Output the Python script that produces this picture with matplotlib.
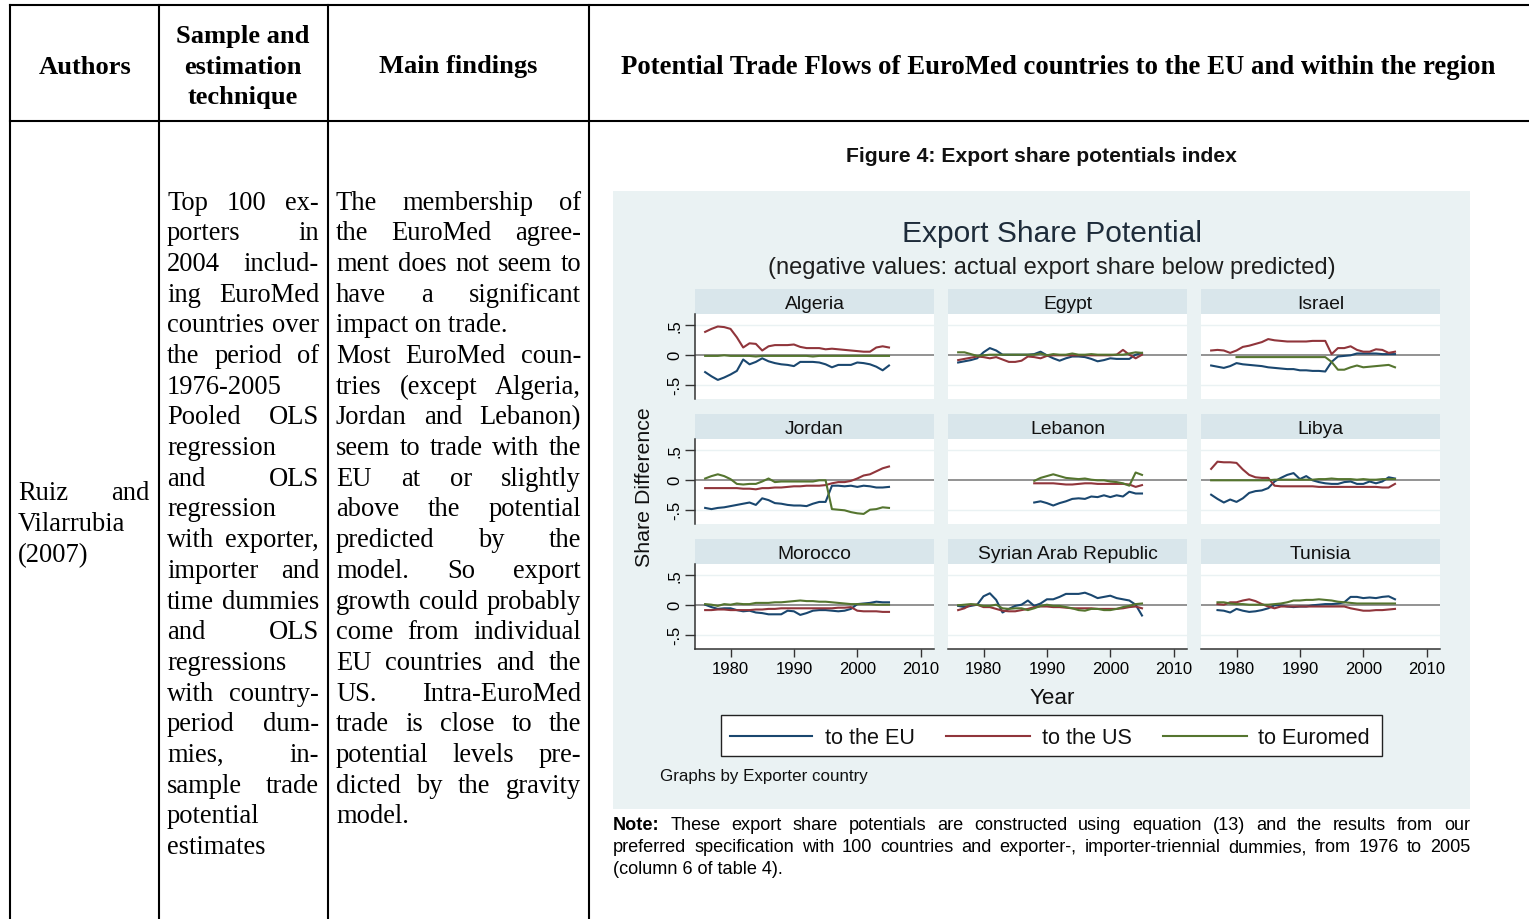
import matplotlib
matplotlib.use('Agg')
import matplotlib.pyplot as plt
from matplotlib.lines import Line2D
from matplotlib.patches import Rectangle

# ---------------- data ----------------
years_full = list(range(1976, 2006))
years_israel_euromed = list(range(1980, 2006))
years_lebanon = list(range(1988, 2006))
years_tunisia = list(range(1977, 2006))

countries = ['Algeria', 'Egypt', 'Israel', 'Jordan', 'Lebanon', 'Libya',
             'Morocco', 'Syrian Arab Republic', 'Tunisia']
series_labels = ['to the EU', 'to the US', 'to Euromed']

algeria_eu = [-0.29, -0.36, -0.42, -0.38, -0.33, -0.27, -0.08, -0.16, -0.12, -0.06, -0.11, -0.14, -0.16, -0.17, -0.19,
              -0.12, -0.12, -0.12, -0.13, -0.16, -0.21, -0.17, -0.17, -0.17, -0.13, -0.14, -0.16, -0.20, -0.26, -0.18]
algeria_us = [0.38, 0.43, 0.47, 0.46, 0.43, 0.29, 0.12, 0.19, 0.18, 0.07, 0.14, 0.16, 0.16, 0.16, 0.17,
              0.13, 0.11, 0.11, 0.11, 0.09, 0.10, 0.09, 0.08, 0.07, 0.06, 0.05, 0.05, 0.12, 0.14, 0.12]
algeria_euromed = [-0.02, -0.02, -0.02, -0.01, -0.02, -0.02, -0.02, -0.02, -0.03, -0.02, -0.02, -0.02, -0.02, -0.02, -0.02,
                   -0.02, -0.02, -0.03, -0.02, -0.02, -0.02, -0.02, -0.02, -0.02, -0.02, -0.02, -0.02, -0.02, -0.02, -0.02]

egypt_eu = [-0.13, -0.11, -0.09, -0.06, 0.04, 0.11, 0.07, 0.00, 0.00, 0.00, 0.00, 0.00, 0.01, 0.05, -0.01,
            -0.06, -0.10, -0.06, -0.03, -0.03, -0.04, -0.07, -0.11, -0.09, -0.06, -0.07, -0.07, -0.07, 0.00, 0.03]
egypt_us = [-0.09, -0.07, -0.05, -0.03, -0.04, -0.06, -0.04, -0.08, -0.12, -0.12, -0.10, -0.03, -0.04, -0.06, -0.02,
            -0.01, -0.01, -0.01, -0.01, -0.01, -0.01, -0.01, -0.01, -0.01, -0.01, 0.00, 0.08, 0.00, -0.06, 0.00]
egypt_euromed = [0.04, 0.04, 0.01, -0.02, -0.01, 0.00, 0.00, 0.00, 0.00, 0.00, 0.00, 0.00, 0.00, 0.02, -0.01,
                 0.01, 0.00, 0.00, 0.02, 0.00, 0.00, 0.01, 0.00, 0.00, 0.00, 0.00, 0.00, 0.02, 0.04, 0.03]

israel_eu = [-0.18, -0.20, -0.22, -0.19, -0.14, -0.16, -0.17, -0.18, -0.19, -0.21, -0.22, -0.23, -0.24, -0.24, -0.26,
             -0.26, -0.27, -0.27, -0.28, -0.12, -0.03, -0.02, -0.01, 0.02, 0.02, 0.02, 0.02, 0.01, 0.01, 0.01]
israel_us = [0.07, 0.08, 0.07, 0.03, 0.07, 0.13, 0.15, 0.18, 0.21, 0.26, 0.24, 0.23, 0.22, 0.22, 0.22,
             0.22, 0.23, 0.23, 0.23, 0.01, 0.11, 0.11, 0.14, 0.08, 0.05, 0.05, 0.09, 0.08, 0.03, 0.05]
israel_euromed = [-0.04, -0.04, -0.04, -0.04, -0.04, -0.04, -0.04, -0.04, -0.04, -0.04, -0.04, -0.04, -0.04,
                  -0.04, -0.04, -0.12, -0.25, -0.25, -0.21, -0.18, -0.21, -0.20, -0.19, -0.18, -0.17, -0.21]

jordan_eu = [-0.47, -0.49, -0.47, -0.46, -0.44, -0.42, -0.40, -0.38, -0.42, -0.31, -0.34, -0.39, -0.40, -0.42, -0.43,
             -0.43, -0.44, -0.40, -0.37, -0.37, -0.10, -0.10, -0.11, -0.10, -0.12, -0.10, -0.11, -0.13, -0.13, -0.12]
jordan_us = [-0.14, -0.14, -0.14, -0.14, -0.14, -0.14, -0.15, -0.15, -0.16, -0.14, -0.14, -0.13, -0.13, -0.12, -0.11,
             -0.11, -0.10, -0.10, -0.10, -0.09, -0.06, -0.04, -0.04, -0.02, 0.02, 0.07, 0.09, 0.14, 0.19, 0.22]
jordan_euromed = [0.02, 0.06, 0.09, 0.06, 0.01, -0.07, -0.08, -0.07, -0.07, -0.03, 0.02, -0.04, -0.03, -0.03, -0.03,
                  -0.03, -0.03, -0.03, -0.01, -0.01, -0.49, -0.50, -0.51, -0.54, -0.56, -0.57, -0.50, -0.49, -0.46, -0.47]

lebanon_eu = [-0.38, -0.36, -0.39, -0.43, -0.39, -0.36, -0.32, -0.31, -0.32, -0.28, -0.29, -0.26, -0.29, -0.26,
              -0.28, -0.20, -0.23, -0.23]
lebanon_us = [-0.06, -0.06, -0.06, -0.06, -0.07, -0.08, -0.08, -0.07, -0.06, -0.06, -0.07, -0.07, -0.07, -0.07,
              -0.07, -0.08, -0.12, -0.09]
lebanon_euromed = [-0.02, 0.03, 0.06, 0.09, 0.06, 0.03, 0.02, 0.01, 0.02, 0.00, -0.01, -0.01, -0.03, -0.04,
                   -0.06, -0.10, 0.12, 0.08]

libya_eu = [-0.25, -0.32, -0.38, -0.33, -0.37, -0.31, -0.22, -0.19, -0.18, -0.14, -0.03, 0.03, 0.08, 0.11, 0.01,
            0.06, -0.01, -0.04, -0.06, -0.07, -0.07, -0.04, -0.03, -0.07, -0.07, -0.03, -0.06, -0.03, 0.04, 0.02]
libya_us = [0.18, 0.30, 0.29, 0.29, 0.28, 0.17, 0.08, 0.04, 0.03, 0.03, -0.10, -0.11, -0.11, -0.11, -0.11,
            -0.11, -0.11, -0.12, -0.12, -0.12, -0.12, -0.12, -0.12, -0.12, -0.12, -0.12, -0.12, -0.13, -0.13, -0.07]
libya_euromed = [-0.01, -0.01, -0.01, -0.01, -0.01, -0.01, -0.01, -0.01, -0.01, -0.01, 0.00, 0.00, 0.00, 0.00, 0.00,
                 0.00, 0.00, 0.01, 0.01, 0.02, 0.01, 0.01, 0.01, 0.00, 0.01, 0.00, 0.00, 0.01, 0.01, 0.01]

morocco_eu = [0.00, -0.04, -0.07, -0.06, -0.06, -0.09, -0.11, -0.10, -0.13, -0.14, -0.16, -0.16, -0.16, -0.10, -0.11,
              -0.17, -0.14, -0.10, -0.09, -0.09, -0.10, -0.11, -0.10, -0.07, 0.01, 0.02, 0.03, 0.05, 0.04, 0.04]
morocco_us = [-0.09, -0.09, -0.08, -0.08, -0.09, -0.09, -0.09, -0.09, -0.08, -0.08, -0.07, -0.07, -0.06, -0.06, -0.06,
              -0.06, -0.06, -0.06, -0.06, -0.06, -0.06, -0.05, -0.05, -0.04, -0.10, -0.11, -0.11, -0.11, -0.12, -0.12]
morocco_euromed = [0.01, 0.00, -0.02, 0.01, 0.00, 0.02, 0.01, 0.01, 0.03, 0.03, 0.03, 0.04, 0.04, 0.05, 0.06,
                   0.07, 0.06, 0.06, 0.05, 0.05, 0.04, 0.03, 0.02, 0.01, 0.01, 0.01, 0.01, 0.00, 0.00, 0.00]

syria_eu = [-0.02, -0.04, -0.02, 0.00, 0.14, 0.19, 0.08, -0.13, -0.07, -0.02, 0.00, 0.07, -0.02, 0.02, 0.09,
            0.09, 0.13, 0.18, 0.18, 0.18, 0.20, 0.16, 0.11, 0.13, 0.15, 0.11, 0.09, 0.07, 0.00, -0.18]
syria_us = [-0.09, -0.06, 0.00, 0.00, -0.04, -0.04, -0.07, -0.10, -0.11, -0.11, -0.09, -0.07, -0.04, -0.03, -0.03,
            -0.04, -0.04, -0.05, -0.06, -0.06, -0.06, -0.06, -0.07, -0.07, -0.07, -0.07, -0.06, -0.04, -0.03, -0.06]
syria_euromed = [-0.01, 0.00, 0.01, 0.00, -0.02, -0.02, 0.00, -0.06, -0.07, -0.06, -0.06, -0.09, -0.06, -0.02, 0.00,
                 -0.02, -0.02, -0.04, -0.06, -0.09, -0.10, -0.07, -0.07, -0.09, -0.09, -0.07, -0.04, -0.02, 0.01, 0.02]

tunisia_eu = [-0.09, -0.10, -0.13, -0.07, -0.10, -0.12, -0.11, -0.09, -0.06, -0.01, -0.01, -0.03, -0.04, -0.03,
              -0.03, -0.01, 0.00, 0.01, 0.01, 0.02, 0.04, 0.13, 0.13, 0.11, 0.12, 0.11, 0.13, 0.14, 0.09]
tunisia_us = [0.01, 0.00, 0.04, 0.04, 0.07, 0.09, 0.06, 0.01, -0.03, -0.06, -0.03, -0.03, -0.03, -0.03,
              -0.03, -0.03, -0.03, -0.03, -0.03, -0.03, -0.03, -0.06, -0.08, -0.10, -0.10, -0.09, -0.09, -0.08, -0.07]
tunisia_euromed = [0.04, 0.04, 0.02, 0.01, 0.01, 0.00, 0.00, 0.00, 0.00, 0.01, 0.02, 0.04, 0.07, 0.07,
                   0.08, 0.08, 0.09, 0.08, 0.07, 0.05, 0.04, 0.03, 0.02, 0.02, 0.02, 0.02, 0.02, 0.02, 0.02]

panel_data = {
    'Algeria': [(years_full, algeria_eu), (years_full, algeria_us), (years_full, algeria_euromed)],
    'Egypt': [(years_full, egypt_eu), (years_full, egypt_us), (years_full, egypt_euromed)],
    'Israel': [(years_full, israel_eu), (years_full, israel_us), (years_israel_euromed, israel_euromed)],
    'Jordan': [(years_full, jordan_eu), (years_full, jordan_us), (years_full, jordan_euromed)],
    'Lebanon': [(years_lebanon, lebanon_eu), (years_lebanon, lebanon_us), (years_lebanon, lebanon_euromed)],
    'Libya': [(years_full, libya_eu), (years_full, libya_us), (years_full, libya_euromed)],
    'Morocco': [(years_full, morocco_eu), (years_full, morocco_us), (years_full, morocco_euromed)],
    'Syrian Arab Republic': [(years_full, syria_eu), (years_full, syria_us), (years_full, syria_euromed)],
    'Tunisia': [(years_tunisia, tunisia_eu), (years_tunisia, tunisia_us), (years_tunisia, tunisia_euromed)],
}

xticks = [1980, 1990, 2000, 2010]
yticks = [-0.5, 0, 0.5]
ytick_labels = ['-.5', '0', '.5']

col2_lines = [("Top 100 ex-", True), ("porters in", True), ("2004 includ-", True), ("ing EuroMed", True),
              ("countries over", True), ("the period of", True), ("1976-2005", False), ("Pooled OLS", True),
              ("regression", False), ("and OLS", True), ("regression", False), ("with exporter,", True),
              ("importer and", True), ("time dummies", True), ("and OLS", True), ("regressions", False),
              ("with country-", True), ("period dum-", True), ("mies, in-", True), ("sample trade", True),
              ("potential", False), ("estimates", False)]
col3_lines = [("The membership of", True), ("the EuroMed agree-", True), ("ment does not seem to", True),
              ("have a significant", True), ("impact on trade.", False), ("Most EuroMed coun-", True),
              ("tries (except Algeria,", True), ("Jordan and Lebanon)", True), ("seem to trade with the", True),
              ("EU at or slightly", True), ("above the potential", True), ("predicted by the", True),
              ("model. So export", True), ("growth could probably", True), ("come from individual", True),
              ("EU countries and the", True), ("US. Intra-EuroMed", True), ("trade is close to the", True),
              ("potential levels pre-", True), ("dicted by the gravity", True), ("model.", False)]
col1_lines = [("Ruiz and", True), ("Vilarrubia", False), ("(2007)", False)]

note_lines = [("Note: These export share potentials are constructed using equation (13) and the results from our", True),
              ("preferred specification with 100 countries and exporter-, importer-triennial dummies, from 1976 to 2005", True),
              ("(column 6 of table 4).", False)]

# ---------------- drawing ----------------
W, H = 1529, 920
fig = plt.figure(figsize=(W / 100, H / 100), dpi=100)
fig.patch.set_facecolor('white')
renderer = fig.canvas.get_renderer()

SANS = ['Liberation Sans', 'DejaVu Sans']
SERIF = ['Liberation Serif', 'DejaVu Serif']
BG = '#eaf2f3'
STRIP = '#d9e6eb'
COLORS = ['#1a476f', '#90353b', '#55752f']
YOFF = 2


def fx(x):
    return x / W


def fy(y):
    return 1 - y / H


def text(x, y, s, size, ha='center', va='center', family=SANS, weight='normal', color='black', rotation=0, z=5):
    return fig.text(fx(x), fy(y + YOFF), s, fontsize=size, ha=ha, va=va, family=family, weight=weight,
                    color=color, rotation=rotation, zorder=z)


def width(t):
    return t.get_window_extent(renderer).width


def fit(t, target):
    t.set_fontsize(t.get_fontsize() * target / width(t))
    return t.get_fontsize()


def justified(line, left, right, y, size, justify, family, first_bold=False):
    words = line.split()
    if (not justify or len(words) == 1) and not first_bold:
        text(left, y, line, size, ha='left', family=family)
        return
    ts = []
    for i, w in enumerate(words):
        wt = 'bold' if (first_bold and i == 0) else 'normal'
        ts.append(text(0, y, w, size, ha='left', family=family, weight=wt))
    ws = [width(t) for t in ts]
    if justify and len(words) > 1:
        gap = (right - left - sum(ws)) / (len(words) - 1)
    else:
        sp = text(0, y, 'a b', size, family=family)
        sp2 = text(0, y, 'ab', size, family=family)
        gap = width(sp) - width(sp2)
        sp.remove()
        sp2.remove()
    x = left
    for t, w in zip(ts, ws):
        t.set_x(fx(x))
        x += w + gap


def hline(y, x0, x1, lw=1.5, color='black'):
    fig.add_artist(Line2D([fx(x0), fx(x1)], [fy(y), fy(y)], transform=fig.transFigure, color=color, lw=lw, zorder=3))


def vline(x, y0, y1, lw=1.5, color='black'):
    fig.add_artist(Line2D([fx(x), fx(x)], [fy(y0), fy(y1)], transform=fig.transFigure, color=color, lw=lw, zorder=3))


# table frame
hline(6, 10, 1529)
hline(122, 10, 1529)
for xv in [10, 159, 328, 589]:
    vline(xv, 6, 920)

# header
t = text(85, 65, 'Authors', 16, family=SERIF, weight='bold')
hsize = fit(t, 93)
text(243, 35, 'Sample and', hsize, family=SERIF, weight='bold')
text(243, 65, 'estimation', hsize, family=SERIF, weight='bold')
text(243, 96, 'technique', hsize, family=SERIF, weight='bold')
text(458, 65, 'Main findings', hsize, family=SERIF, weight='bold')
t = text(1058, 65, 'Potential Trade Flows of EuroMed countries to the EU and within the region', hsize,
         family=SERIF, weight='bold')
fit(t, 874)

# body text
t = text(0, -100, '1976-2005', 16, family=SERIF, ha='left')
bsize = fit(t, 115)
t.remove()
LS = 30.7
for i, (ln, j) in enumerate(col2_lines):
    justified(ln, 167, 319, 201 + LS * i, bsize, j, SERIF)
for i, (ln, j) in enumerate(col3_lines):
    justified(ln, 336, 581, 201 + LS * i, bsize, j, SERIF)
for i, (ln, j) in enumerate(col1_lines):
    justified(ln, 18, 150, 492 + LS * i, bsize, j, SERIF)

# figure caption
t = text(1041, 155, 'Figure 4: Export share potentials index', 12, weight='bold', color='#111111')
fit(t, 389)

# chart background
fig.add_artist(Rectangle((fx(613), fy(810)), (1470 - 613) / W, (810 - 192) / H, transform=fig.transFigure,
                         facecolor=BG, edgecolor='none', zorder=-2))

t = text(1052, 232, 'Export Share Potential', 18, color='#1e2c3a')
fit(t, 300)
t = text(1052, 266, '(negative values: actual export share below predicted)', 14, color='#1e1e1e')
fit(t, 571)

# panels
col_left = [695, 948, 1201]
PW, PH = 239, 85
axes = []
for i, c in enumerate(countries):
    r, cc = divmod(i, 3)
    left = col_left[cc]
    top = 315 + 125 * r
    ax = fig.add_axes([fx(left), fy(top + PH), PW / W, PH / H])
    ax.set_facecolor('white')
    ax.set_xlim(1974.4, 2012.1)
    ax.set_ylim(-0.738, 0.678)
    for g in [-0.5, 0.5]:
        ax.axhline(g, color=BG, lw=1.0, zorder=1)
    ax.axhline(0, color='#8a8a8a', lw=1.3, zorder=2)
    for (xs, ys), col in zip(panel_data[c], COLORS):
        ax.plot(xs, ys, color=col, lw=1.5, zorder=3)
    for s in ax.spines.values():
        s.set_visible(False)
    ax.tick_params(left=False, bottom=False, labelleft=False, labelbottom=False)
    if cc == 0:
        ax.spines['left'].set_visible(True)
        ax.spines['left'].set_color('#333333')
        ax.spines['left'].set_linewidth(1.1)
        ax.set_yticks(yticks)
        ax.set_yticklabels(ytick_labels, rotation=90, va='center', family=SANS)
        ax.tick_params(axis='y', left=True, labelleft=True, length=7, width=1.0, color='#333333',
                       labelsize=12, pad=2)
    else:
        ax.set_yticks([])
    if r == 2:
        ax.spines['bottom'].set_visible(True)
        ax.spines['bottom'].set_color('#333333')
        ax.spines['bottom'].set_linewidth(1.1)
        ax.set_xticks(xticks)
        ax.set_xticklabels([str(v) for v in xticks], family=SANS)
        ax.tick_params(axis='x', bottom=True, labelbottom=True, length=6, width=1.0, color='#333333',
                       labelsize=12, pad=3)
    else:
        ax.set_xticks([])
    fig.add_artist(Rectangle((fx(left), fy(top)), PW / W, 25 / H, transform=fig.transFigure,
                             facecolor=STRIP, edgecolor='none', zorder=-1))
    axes.append((left, top, c))

t = text(0, -100, 'Syrian Arab Republic', 12)
ssize = fit(t, 180)
t.remove()
for left, top, c in axes:
    text(left + PW / 2, top - 12.5, c, ssize, color='#111111')

t = text(645, 485, 'Share Difference', 13, color='#111111')
fit(t, 160)
t.set_rotation(90)
t = text(1052, 697, 'Year', 13, color='#111111')
fit(t, 45)

# legend
fig.add_artist(Rectangle((fx(721), fy(757)), (1382 - 721) / W, (757 - 716) / H, transform=fig.transFigure,
                         facecolor='white', edgecolor='#222222', lw=1.0, zorder=1))
t = text(0, -100, 'to the EU', 13)
lsize = fit(t, 90)
t.remove()
for (x0, x1, xt), lab, col in zip([(730, 812, 825), (946, 1030, 1042), (1163, 1247, 1258)], series_labels, COLORS):
    fig.add_artist(Line2D([fx(x0), fx(x1)], [fy(737), fy(737)], transform=fig.transFigure, color=col, lw=1.5,
                          zorder=2))
    text(xt, 737, lab, lsize, ha='left', color='#111111')

t = text(660, 775, 'Graphs by Exporter country', 10, ha='left', color='#111111')
fit(t, 209)

# note
t = text(0, -100, '(column 6 of table 4).', 11, ha='left')
nsize = fit(t, 170)
t.remove()
for i, (ln, j) in enumerate(note_lines):
    justified(ln, 613, 1470, 824 + 22 * i, nsize, j, SANS, first_bold=(i == 0))

fig.savefig('out.png', dpi=100, facecolor='white')
